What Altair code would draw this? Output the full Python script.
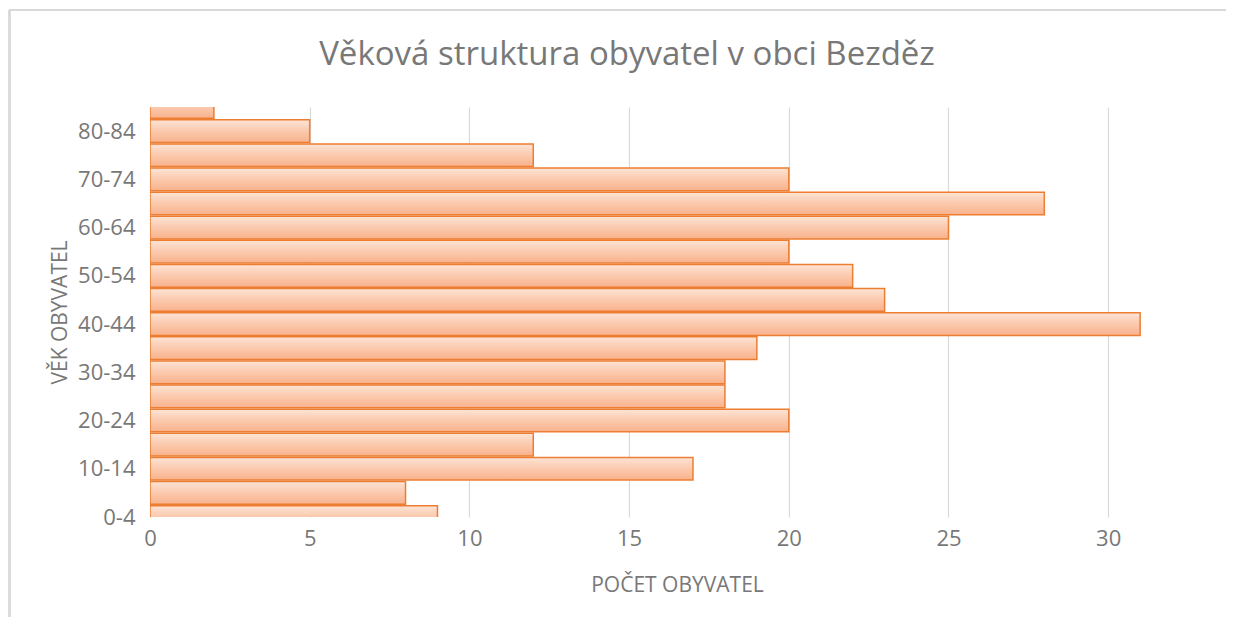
import json
import altair as alt
import pandas as pd

categories = ["0-4", "5-9", "10-14", "15-19", "20-24", "25-29", "30-34", "35-39",
              "40-44", "45-49", "50-54", "55-59", "60-64", "65-69", "70-74",
              "75-79", "80-84", "85-89"]
values = [9, 8, 17, 12, 20, 18, 18, 19, 31, 23, 22, 20, 25, 28, 20, 12, 5, 2]

df = pd.DataFrame({"vek": categories, "pocet": values, "idx": list(range(len(categories)))})

gray = "#787878"
font = "Open Sans"

label_expr = json.dumps(categories) + "[datum.value]"

bars = alt.Chart(df).transform_calculate(
    lo="datum.idx - 0.47", hi="datum.idx + 0.47"
).mark_bar(
    clip=True,
    stroke="#ED7D31",
    strokeWidth=1.5,
    color=alt.Gradient(
        gradient="linear",
        stops=[alt.GradientStop(color="#fde4d6", offset=0),
               alt.GradientStop(color="#fbc9ad", offset=0.5),
               alt.GradientStop(color="#f8b28c", offset=1)],
        x1=0, x2=0, y1=0, y2=1,
    ),
).encode(
    x=alt.X("pocet:Q",
            scale=alt.Scale(domain=[0, 33], nice=False),
            axis=alt.Axis(title="POČET OBYVATEL", values=[0, 5, 10, 15, 20, 25, 30],
                          grid=True, gridColor="#d9d9d9", gridWidth=1.2,
                          domain=False, ticks=False, labelPadding=11,
                          labelFlush=False,
                          labelFontSize=22, labelColor=gray, labelFont=font,
                          titleFontSize=21, titleColor=gray, titleFont=font,
                          titleFontWeight="normal", titlePadding=25)),
    x2=alt.value(0),
    y=alt.Y("lo:Q",
            scale=alt.Scale(domain=[0, 17], nice=False, zero=False),
            axis=alt.Axis(title="VĚK OBYVATEL", values=list(range(0, 17, 2)),
                          labelExpr=label_expr, grid=False, domain=False,
                          ticks=False, labelPadding=15,
                          labelFontSize=22, labelColor=gray, labelFont=font,
                          titleFontSize=21, titleColor=gray, titleFont=font,
                          titleFontWeight="normal", titlePadding=7)),
    y2="hi:Q",
    tooltip=["vek:N", "pocet:Q"],
)

frame_top = alt.Chart(df).mark_rule(color="#d9d9d9", strokeWidth=1.5).encode(
    x=alt.value(-141), x2=alt.value(1080), y=alt.value(-97)
)
frame_left = alt.Chart(df).mark_rule(color="#d9d9d9", strokeWidth=1.5).encode(
    x=alt.value(-140.5), y=alt.value(-97), y2=alt.value(515)
)

chart = alt.layer(bars, frame_top, frame_left).properties(
    width=1054,
    height=410,
    title=alt.TitleParams("Věková struktura obyvatel v obci Bezděz",
                          fontSize=33, font=font, fontWeight="normal",
                          color=gray, anchor="middle", offset=-63, dx=-50),
    autosize=alt.AutoSizeParams(type="none"),
    padding={"left": 142, "top": 99, "right": 22, "bottom": 100},
).configure_view(stroke=None)

chart.save("out.html", embed_options={"renderer": "svg", "actions": False})
